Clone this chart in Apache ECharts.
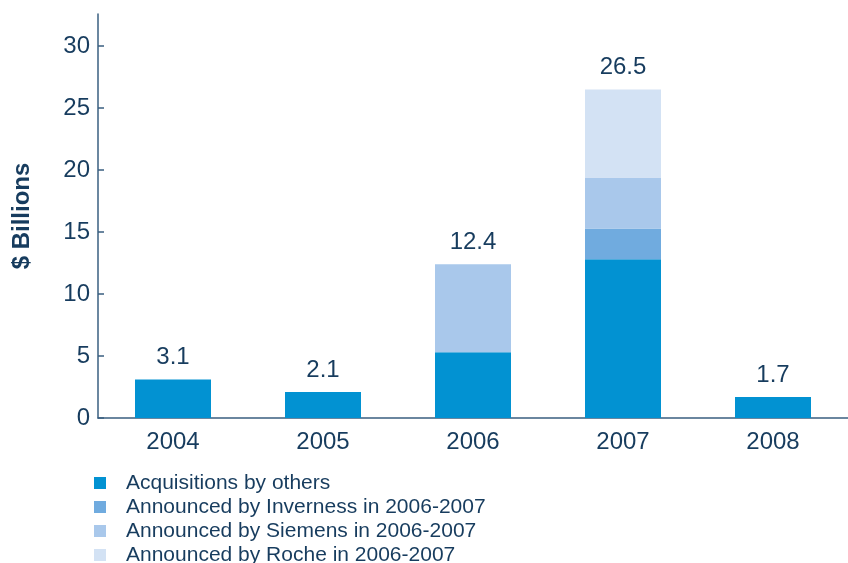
<!DOCTYPE html>
<html>
<head>
<meta charset="utf-8">
<script src="https://cdn.jsdelivr.net/npm/echarts@6/dist/echarts.min.js"></script>
<style>
html,body{margin:0;padding:0;background:#fff;}
#chart{width:848px;height:563px;}
</style>
</head>
<body>
<div id="chart"></div>
<script>
const categories = ['2004', '2005', '2006', '2007', '2008'];
const others    = [3.1, 2.1, 5.3, 12.8, 1.7];
const inverness = [null, null, null, 2.5, null];
const siemens   = [null, null, 7.1, 4.1, null];
const roche     = [null, null, null, 7.1, null];
const totals    = [3.1, 2.1, 12.4, 26.5, 1.7];
const yTicks    = [0, 5, 10, 15, 20, 25, 30];
const seriesNames = ['Acquisitions by others', 'Announced by Inverness in 2006-2007', 'Announced by Siemens in 2006-2007', 'Announced by Roche in 2006-2007'];
const colors = ['#0292d2', '#70abdf', '#a9c8eb', '#d3e2f4'];

const textColor = '#173c5e';
const axisColor = '#3a5f80';
const font = 'Liberation Sans, Arial, sans-serif';

const chart = echarts.init(document.getElementById('chart'), null, {renderer: 'canvas'});
const stackData = [others, inverness, siemens, roche];

const series = stackData.map((d, i) => ({
  name: seriesNames[i],
  type: 'bar',
  stack: 'total',
  barWidth: 76,
  data: d,
  itemStyle: {color: colors[i]},
  emphasis: {disabled: true}
}));
series.push({
  name: 'totals',
  type: 'bar',
  barWidth: 76,
  barGap: '-100%',
  data: totals,
  itemStyle: {color: 'rgba(0,0,0,0)'},
  silent: true,
  z: 1,
  label: {
    show: true,
    position: 'top',
    distance: 10,
    color: textColor,
    fontSize: 24,
    fontFamily: font,
    formatter: p => totals[p.dataIndex].toFixed(1)
  }
});

chart.setOption({
  animation: false,
  backgroundColor: '#fff',
  textStyle: {fontFamily: font},
  grid: {left: 98, right: -5, top: 14, bottom: 145, containLabel: false},
  legend: {
    data: seriesNames,
    orient: 'vertical',
    left: 94,
    top: 472,
    height: 200,
    padding: 0,
    icon: 'rect',
    itemWidth: 12,
    itemHeight: 12,
    itemGap: 2,
    selectedMode: false,
    textStyle: {
      color: textColor,
      fontSize: 21,
      fontFamily: font,
      lineHeight: 22,
      padding: [0, 0, 0, 15]
    }
  },
  xAxis: {
    type: 'category',
    data: categories,
    axisLine: {lineStyle: {color: axisColor, width: 1.5}},
    axisTick: {show: false},
    axisLabel: {color: textColor, fontSize: 24, fontFamily: font, margin: 12}
  },
  yAxis: {
    type: 'value',
    min: 0,
    max: 32.6,
    interval: 5,
    name: '$ Billions',
    nameLocation: 'middle',
    nameGap: 64,
    nameTextStyle: {color: textColor, fontSize: 24, fontWeight: 'bold', fontFamily: font},
    splitLine: {show: false},
    axisLine: {show: true, lineStyle: {color: axisColor, width: 1.5}},
    axisTick: {show: true, inside: true, length: 6, lineStyle: {color: axisColor, width: 1.5}, customValues: yTicks},
    axisLabel: {color: textColor, fontSize: 24, fontFamily: font, margin: 8, customValues: yTicks}
  },
  series: series
});
</script>
</body>
</html>
